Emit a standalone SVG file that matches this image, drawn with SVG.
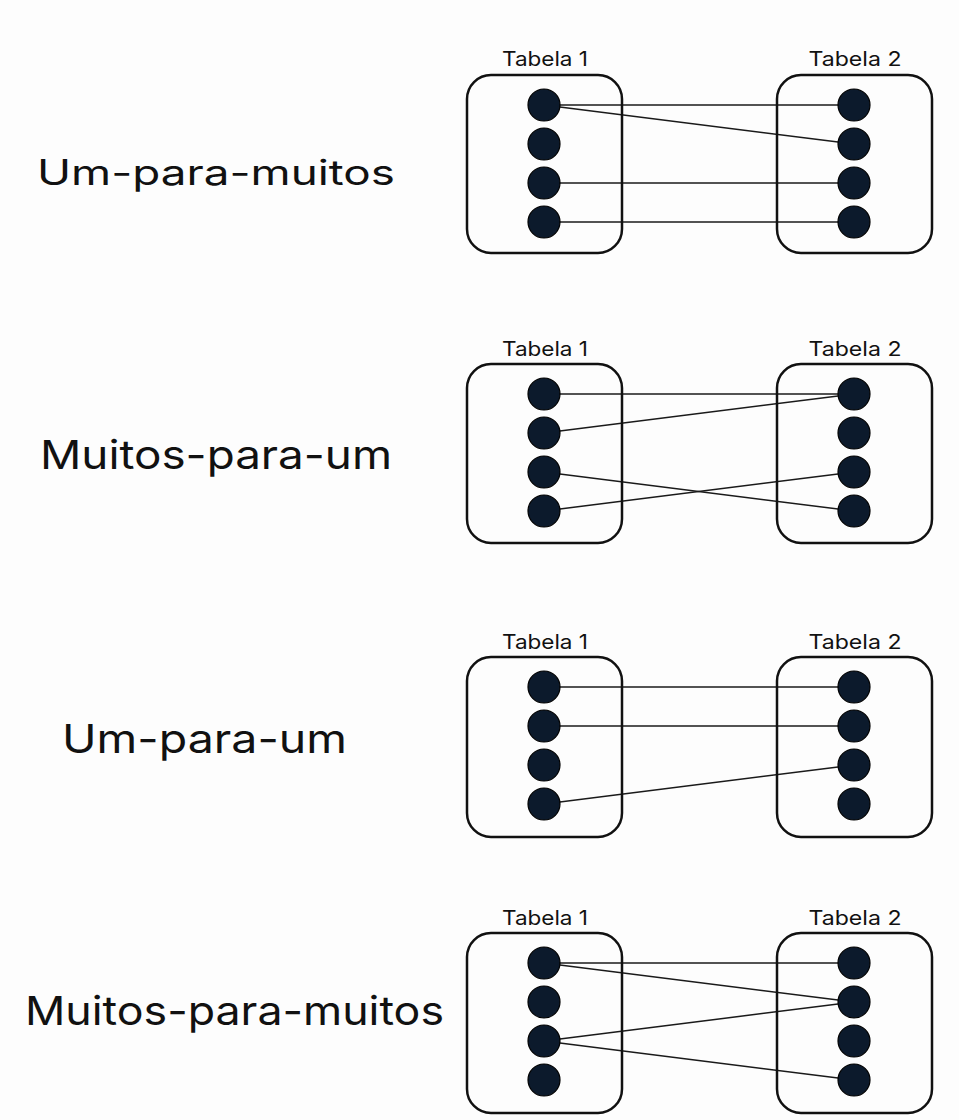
<svg xmlns="http://www.w3.org/2000/svg" xmlns:xlink="http://www.w3.org/1999/xlink" width="959" height="1120" viewBox="0 0 959 1120">
<style>
.bg{fill:#fdfdfd}
.box{fill:none;stroke:#111;stroke-width:2.5}
.dot{fill:#0c1a2c;stroke:#000;stroke-width:1.2}
.ln{stroke:#1a1a1a;stroke-width:1.5;fill:none}
.tl{font-family:Inter,"Noto Sans","Liberation Sans",sans-serif;font-size:20px;fill:#111;text-anchor:middle}
.big{font-family:Inter,"Noto Sans","Liberation Sans",sans-serif;font-size:40px;font-weight:400;fill:#111}
</style>
<defs>
<g id="col">
<circle class="dot" cx="0" cy="30" r="16"/>
<circle class="dot" cx="0" cy="69" r="16"/>
<circle class="dot" cx="0" cy="108" r="16"/>
<circle class="dot" cx="0" cy="147" r="16"/>
</g>
</defs>
<rect class="bg" x="0" y="0" width="959" height="1120"/>

<g id="connectors">
<line class="ln" x1="544" y1="105" x2="854" y2="105"/>
<line class="ln" x1="544" y1="105" x2="854" y2="144"/>
<line class="ln" x1="544" y1="183" x2="854" y2="183"/>
<line class="ln" x1="544" y1="222" x2="854" y2="222"/>
<line class="ln" x1="544" y1="394" x2="854" y2="394"/>
<line class="ln" x1="544" y1="433" x2="854" y2="394"/>
<line class="ln" x1="544" y1="472" x2="854" y2="511"/>
<line class="ln" x1="544" y1="511" x2="854" y2="472"/>
<line class="ln" x1="544" y1="687" x2="854" y2="687"/>
<line class="ln" x1="544" y1="726" x2="854" y2="726"/>
<line class="ln" x1="544" y1="804" x2="854" y2="765"/>
<line class="ln" x1="544" y1="963" x2="854" y2="963"/>
<line class="ln" x1="544" y1="963" x2="854" y2="1002"/>
<line class="ln" x1="544" y1="1041" x2="854" y2="1002"/>
<line class="ln" x1="544" y1="1041" x2="854" y2="1080"/>
</g>

<g id="sec1-label"><text class="big" x="37" y="185" textLength="358" lengthAdjust="spacingAndGlyphs" style="font-size:35px">Um-para-muitos</text></g>
<g id="sec1-t1">
<text class="tl" x="545" y="66" textLength="86" lengthAdjust="spacingAndGlyphs">Tabela 1</text>
<rect class="box" x="467" y="75" width="155" height="178" rx="24"/>
<use xlink:href="#col" x="544" y="75"/>
</g>
<g id="sec1-t2">
<text class="tl" x="855" y="66" textLength="93" lengthAdjust="spacingAndGlyphs">Tabela 2</text>
<rect class="box" x="777" y="75" width="155" height="178" rx="24"/>
<use xlink:href="#col" x="854" y="75"/>
</g>

<g id="sec2-label"><text class="big" x="40" y="469" textLength="352" lengthAdjust="spacingAndGlyphs">Muitos-para-um</text></g>
<g id="sec2-t1">
<text class="tl" x="545" y="356" textLength="86" lengthAdjust="spacingAndGlyphs">Tabela 1</text>
<rect class="box" x="467" y="364" width="155" height="179" rx="24"/>
<use xlink:href="#col" x="544" y="364"/>
</g>
<g id="sec2-t2">
<text class="tl" x="855" y="356" textLength="93" lengthAdjust="spacingAndGlyphs">Tabela 2</text>
<rect class="box" x="777" y="364" width="155" height="179" rx="24"/>
<use xlink:href="#col" x="854" y="364"/>
</g>

<g id="sec3-label"><text class="big" x="62" y="753" textLength="285" lengthAdjust="spacingAndGlyphs">Um-para-um</text></g>
<g id="sec3-t1">
<text class="tl" x="545" y="649" textLength="86" lengthAdjust="spacingAndGlyphs">Tabela 1</text>
<rect class="box" x="467" y="657" width="155" height="180" rx="24"/>
<use xlink:href="#col" x="544" y="657"/>
</g>
<g id="sec3-t2">
<text class="tl" x="855" y="649" textLength="93" lengthAdjust="spacingAndGlyphs">Tabela 2</text>
<rect class="box" x="777" y="657" width="155" height="180" rx="24"/>
<use xlink:href="#col" x="854" y="657"/>
</g>

<g id="sec4-label"><text class="big" x="25" y="1025" textLength="419" lengthAdjust="spacingAndGlyphs">Muitos-para-muitos</text></g>
<g id="sec4-t1">
<text class="tl" x="545" y="925" textLength="86" lengthAdjust="spacingAndGlyphs">Tabela 1</text>
<rect class="box" x="467" y="933" width="155" height="180" rx="24"/>
<use xlink:href="#col" x="544" y="933"/>
</g>
<g id="sec4-t2">
<text class="tl" x="855" y="925" textLength="93" lengthAdjust="spacingAndGlyphs">Tabela 2</text>
<rect class="box" x="777" y="933" width="155" height="180" rx="24"/>
<use xlink:href="#col" x="854" y="933"/>
</g>
</svg>
